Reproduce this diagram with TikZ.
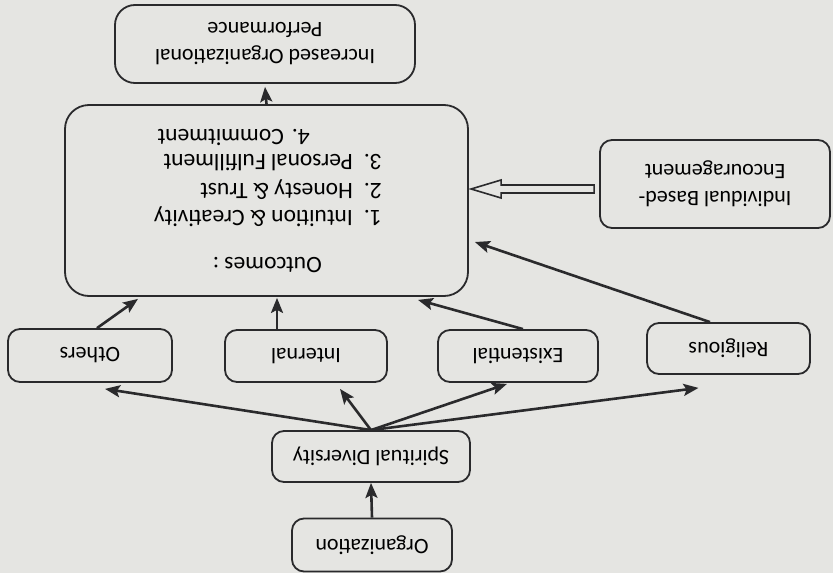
\documentclass[tikz,border=0pt]{standalone}
\usepackage{fontspec}
\setmainfont{Carlito}
\usetikzlibrary{arrows.meta,calc}

\definecolor{ink}{RGB}{42,42,44}
\definecolor{paper}{RGB}{229,229,226}

\begin{document}
\begin{tikzpicture}[x=1pt,y=-1pt]
      \tikzset{
        box/.style={draw=ink,line width=1.8pt,rounded corners=12pt,rotate=180,
          inner sep=0pt,align=center,font=\fontsize{22}{27}\selectfont},
        lbl/.style={rotate=180,inner sep=0pt,anchor=west,
          font=\fontsize{23.5}{27}\selectfont},
        arr/.style={draw=ink,line width=2.6pt,
          -{Stealth[length=15pt,width=12pt,inset=3pt]}},
        hollow/.style={draw=ink,line width=1.6pt,line join=miter}
      }

      \useasboundingbox (0,0) rectangle (833,573);
      \fill[paper] (0,0) rectangle (833,573);

      \node[box,minimum width=300,minimum height=78,rounded corners=20pt] (perf) at (265,44) {Increased Organizational\\Performance};
      \node[box,minimum width=403,minimum height=191,rounded corners=24pt] (out) at (266.5,200.5) {};
      \node[box,minimum width=230,minimum height=88] (ind) at (715,184) {Individual Based-\\Encouragement};
      \node[box,minimum width=163,minimum height=51] (rel) at (728.5,348.5) {Religious};
      \node[box,minimum width=160,minimum height=52] (ext) at (518,356) {Existential};
      \node[box,minimum width=162,minimum height=52] (int) at (306,356) {Internal};
      \node[box,minimum width=164,minimum height=53] (oth) at (90,355.5) {Others};
      \node[box,minimum width=198,minimum height=51] (sd) at (371,456.5) {Spiritual Diversity};
      \node[box,minimum width=160,minimum height=53] (org) at (372,545) {Organization};

      \node[lbl] (oc) at (322,265) {Outcomes :};
      \node[lbl] (o1) at (382,217) {\makebox[29pt][l]{1.}Intuition \& Creativity};
      \node[lbl] (o2) at (382,190) {\makebox[29pt][l]{2.}Honesty \& Trust};
      \node[lbl] (o3) at (382,163) {\makebox[29pt][l]{3.}Personal Fulfillment};
      \node[lbl] (o4) at (310,137) {\makebox[26pt][l]{4.}Commitment};

      \draw[arr] (org.south) -- (sd.north);
      \draw[arr] (sd.south) -- ([xshift=15,yshift=-6]oth.north);
      \draw[arr] (sd.south) -- ([xshift=34,yshift=-6]int.north);
      \draw[arr] (sd.south) -- ([xshift=-11,yshift=-1]ext.north);
      \draw[arr] (sd.south) -- ([xshift=-30,yshift=-13]rel.north);

      \draw[arr] ([xshift=7]oth.south) -- ([xshift=-128.5,yshift=-2]out.north);
      \draw[arr] ([xshift=-29]int.south) -- ([xshift=10.5,yshift=-1]out.north);
      \draw[arr] ([xshift=5]ext.south) -- ([xshift=151.5,yshift=-3]out.north);
      \draw[arr] ([xshift=-18.5]rel.south) -- ([xshift=6,yshift=-41.5]out.west);
      \draw[arr] (out.south) -- ([yshift=-3]perf.north);

      \draw[hollow] ($(ind.east)+(-5,1)$) -- ++(-93,0) -- ++(0,-5) -- ++(-30,9)
            -- ++(30,9) -- ++(0,-5) -- ++(93,0) -- cycle;
\end{tikzpicture}
\end{document}
